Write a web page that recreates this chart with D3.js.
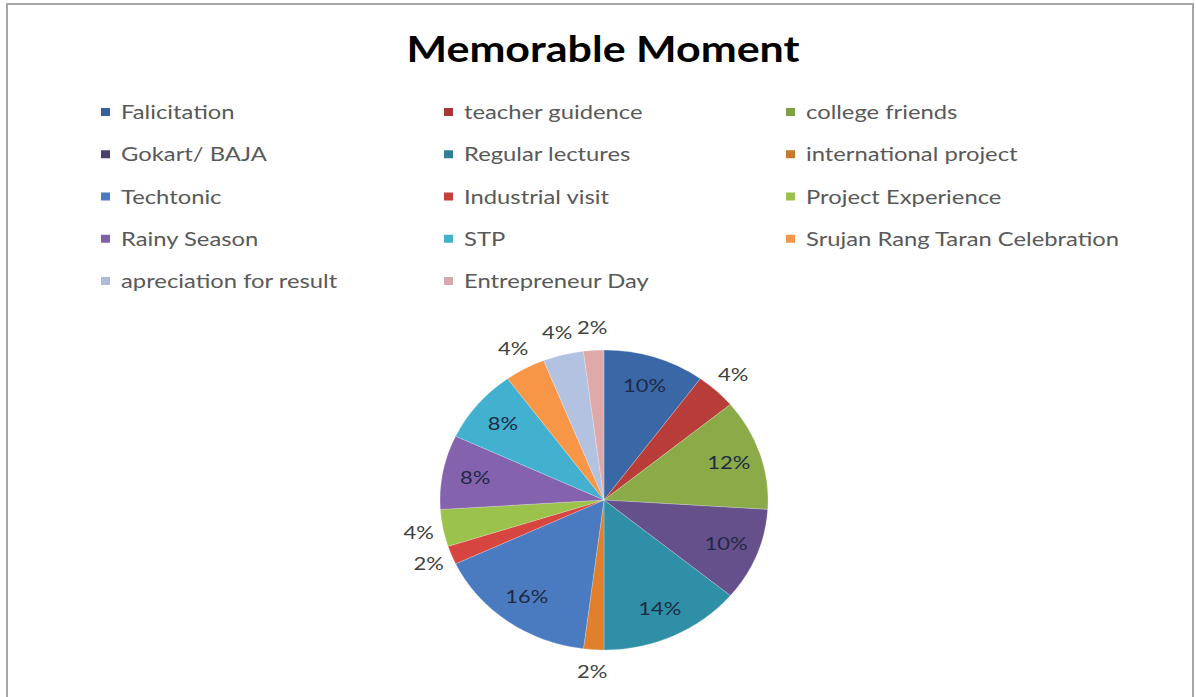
<!DOCTYPE html>
<html>
<head>
<meta charset="utf-8">
<script src="https://cdn.jsdelivr.net/npm/d3@7"></script>
<style>
  html, body { margin: 0; padding: 0; background: #fff; }
  svg { display: block; }
</style>
</head>
<body>
<svg id="chart" width="1196" height="697"></svg>
<script>
const title = "Memorable Moment";
const categories = [
  "Falicitation", "teacher guidence", "college friends",
  "Gokart/ BAJA", "Regular lectures", "international project",
  "Techtonic", "Industrial visit", "Project Experience",
  "Rainy Season", "STP", "Srujan Rang Taran Celebration",
  "apreciation for result", "Entrepreneur Day"
];
const counts = [5, 2, 6, 5, 7, 1, 8, 1, 2, 4, 4, 2, 2, 1];
const colors = [
  "#3a67a6", "#b83c38", "#8aab47",
  "#66508c", "#2f8fa6", "#e0802c",
  "#4a7bc0", "#d6453f", "#9bc24a",
  "#8462ae", "#42b0cf", "#f79646",
  "#b3c2e0", "#e0a9a9"
];
const legendColors = [
  "#3c5fa0", "#a83634", "#7e9f45",
  "#4a3f6e", "#2f7f98", "#c87a2a",
  "#4a7bc0", "#c8403c", "#9bc24a",
  "#8060a8", "#42b0cf", "#f79646",
  "#aebad8", "#d8a8b0"
];

const svg = d3.select("#chart");
const FONT = "Lato, 'Open Sans', sans-serif";
const STRETCH = 1.22; // the picture's text is horizontally widened

function widen(sel) {
  sel.each(function () {
    const w = this.getComputedTextLength();
    d3.select(this).attr("textLength", w * STRETCH).attr("lengthAdjust", "spacingAndGlyphs");
  });
}

// frame
svg.append("rect")
  .attr("x", 7).attr("y", 4).attr("width", 1186).attr("height", 710)
  .attr("fill", "#fff").attr("stroke", "#a6a6a6").attr("stroke-width", 2);

// title
svg.append("text")
  .attr("x", 603).attr("y", 62)
  .attr("text-anchor", "middle")
  .attr("font-family", FONT)
  .attr("font-weight", "bold")
  .attr("font-size", 37)
  .attr("fill", "#000")
  .text(title)
  .attr("textLength", 393).attr("lengthAdjust", "spacingAndGlyphs");

// legend
const colX = d3.scaleOrdinal().domain([0, 1, 2]).range([101, 444, 786]);
const rowY = d3.scaleLinear().domain([0, 4]).range([112, 281]);
const leg = svg.append("g");
categories.forEach((c, i) => {
  const col = i % 3, row = Math.floor(i / 3);
  const g = leg.append("g").attr("transform", `translate(${colX(col)},${rowY(row)})`);
  g.append("rect").attr("x", 0).attr("y", -4).attr("width", 9).attr("height", 8)
    .attr("fill", legendColors[i]);
  g.append("text").attr("x", 20).attr("y", 0).attr("dy", "0.36em")
    .attr("font-family", FONT)
    .attr("font-size", 19.5)
    .attr("fill", "#595959")
    .text(c)
    .call(widen);
});

// pie (slightly elliptical, as in the picture)
const cx = 604, cy = 500, rx = 164, ry = 150;
const total = d3.sum(counts);
const pie = d3.pie().sort(null).value(d => d)(counts);
const arc = d3.arc().innerRadius(0).outerRadius(ry);
const pg = svg.append("g")
  .attr("transform", `translate(${cx},${cy}) scale(${rx / ry},1)`);
pg.selectAll("path").data(pie).enter().append("path")
  .attr("d", arc)
  .attr("fill", (d, i) => colors[i])
  .attr("stroke", "rgba(255,255,255,0.35)")
  .attr("stroke-width", 0.6);

// labels
const lg = svg.append("g");
pie.forEach((d, i) => {
  const pct = Math.round(d.value / total * 100);
  const mid = (d.startAngle + d.endAngle) / 2;
  const inside = pct >= 8;
  const k = inside ? 0.8 : 1.15;
  const x = cx + Math.sin(mid) * rx * k;
  const y = cy - Math.cos(mid) * ry * k;
  lg.append("text")
    .attr("x", x).attr("y", y).attr("dy", "0.35em")
    .attr("text-anchor", "middle")
    .attr("font-family", FONT)
    .attr("font-size", 18)
    .attr("fill", inside ? "#1f2a44" : "#404040")
    .text(pct + "%")
    .call(widen);
});
</script>
</body>
</html>
